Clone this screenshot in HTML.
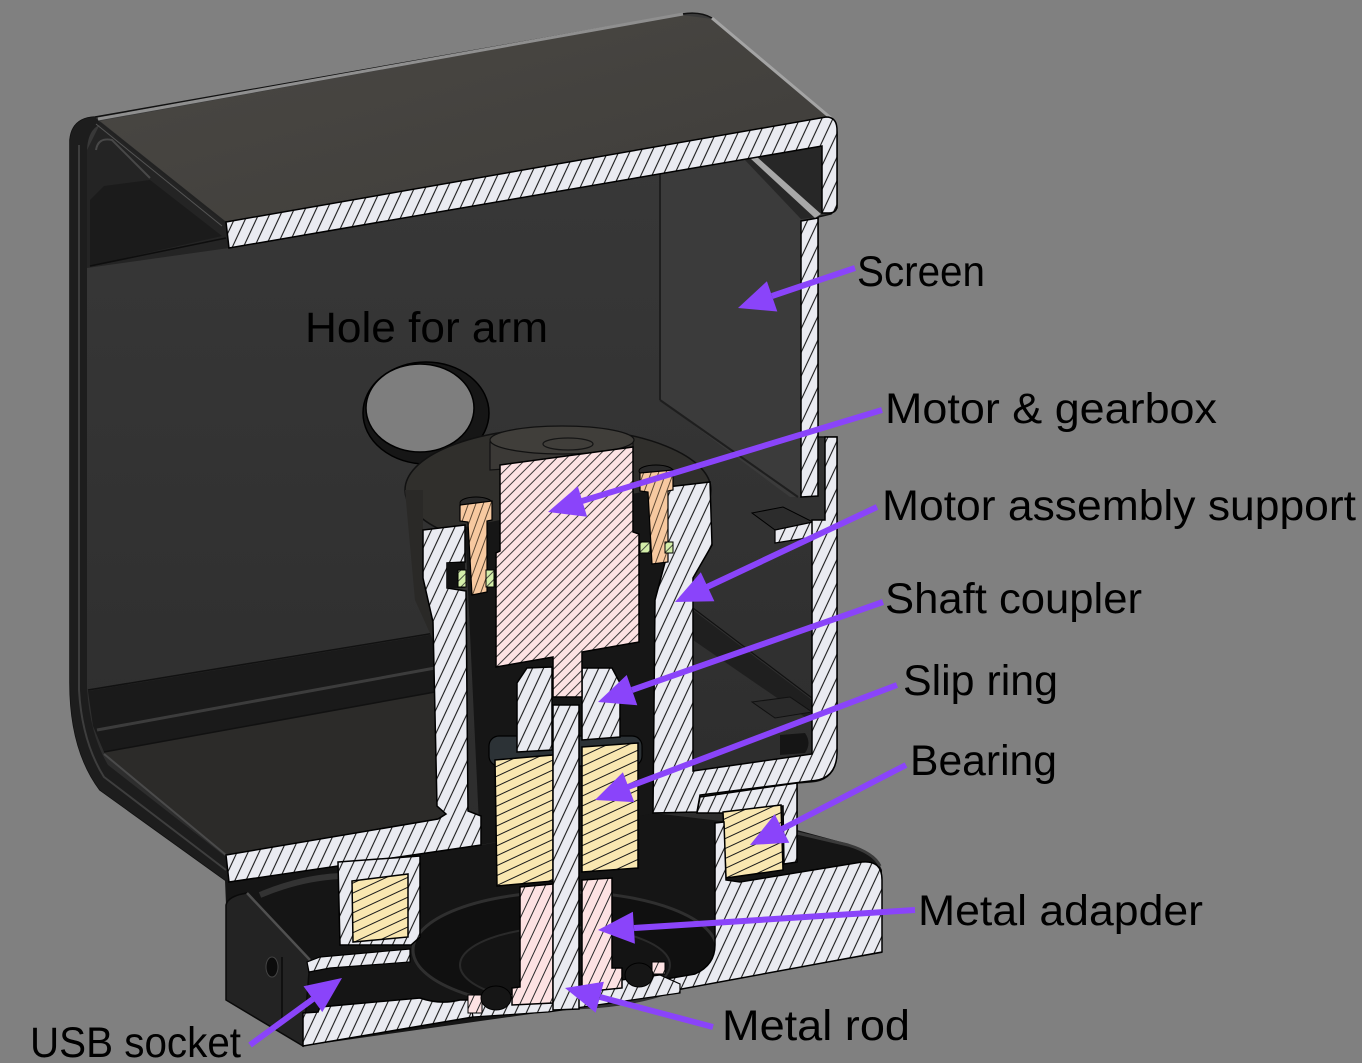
<!DOCTYPE html>
<html>
<head>
<meta charset="utf-8">
<style>
html,body{margin:0;padding:0;background:#808080;}
svg{display:block;}
text{font-family:"Liberation Sans",Arial,sans-serif;font-size:43px;fill:#000;}
</style>
</head>
<body>
<svg width="1362" height="1063" viewBox="0 0 1362 1063" xmlns="http://www.w3.org/2000/svg">
<defs>
  <pattern id="hw" patternUnits="userSpaceOnUse" width="10" height="10" patternTransform="rotate(25)">
    <rect width="10" height="10" fill="#eaebf1"/>
    <line x1="5" y1="-1" x2="5" y2="11" stroke="#1a1a1a" stroke-width="1.1"/>
  </pattern>
  <pattern id="hp" patternUnits="userSpaceOnUse" width="7" height="7" patternTransform="rotate(45)">
    <rect width="7" height="7" fill="#fde2e3"/>
    <line x1="3.5" y1="-1" x2="3.5" y2="8" stroke="#2a2a2a" stroke-width="0.9"/>
  </pattern>
  <pattern id="hp2" patternUnits="userSpaceOnUse" width="9" height="9" patternTransform="rotate(25)">
    <rect width="9" height="9" fill="#fde2e3"/>
    <line x1="4.5" y1="-1" x2="4.5" y2="10" stroke="#2a2a2a" stroke-width="1"/>
  </pattern>
  <pattern id="hy" patternUnits="userSpaceOnUse" width="9" height="9" patternTransform="rotate(65)">
    <rect width="9" height="9" fill="#f9e7b1"/>
    <line x1="4.5" y1="-1" x2="4.5" y2="10" stroke="#1a1a1a" stroke-width="1"/>
  </pattern>
  <pattern id="ho" patternUnits="userSpaceOnUse" width="7" height="7" patternTransform="rotate(20)">
    <rect width="7" height="7" fill="#f7c9a0"/>
    <line x1="3.5" y1="-1" x2="3.5" y2="8" stroke="#3a2a1a" stroke-width="0.8"/>
  </pattern>
  <pattern id="hg" patternUnits="userSpaceOnUse" width="6" height="6" patternTransform="rotate(45)">
    <rect width="6" height="6" fill="#d4eeaa"/>
    <line x1="3" y1="-1" x2="3" y2="7" stroke="#2a2a2a" stroke-width="0.8"/>
  </pattern>
  <linearGradient id="bw" x1="0" y1="0" x2="0" y2="1">
    <stop offset="0" stop-color="#3a3a3a"/>
    <stop offset="1" stop-color="#2c2c2c"/>
  </linearGradient>
  <linearGradient id="lid" x1="0" y1="0" x2="1" y2="1">
    <stop offset="0" stop-color="#4a4844"/>
    <stop offset="1" stop-color="#3f3d3a"/>
  </linearGradient>
</defs>

<rect width="1362" height="1063" fill="#808080"/>

<!-- housing silhouette / back wall -->
<path d="M70,140 Q72,118 95,117 L682,14 Q700,11 712,18 L834,121 L837,132 L837,208 L831,214 L818,217 L818,437 L837,437 L837,750 Q837,781 810,782 L797,783 L797,840 L300,900 L228,882 L100,790 Q70,750 70,683 Z" fill="url(#bw)" stroke="#111" stroke-width="1.5"/>

<!-- left wall band -->
<path d="M70,140 Q72,118 95,117 L102,124 Q88,128 87,150 L87,688 Q90,735 108,765 L226,857 L228,882 L100,790 Q70,750 70,683 Z" fill="#1d1d1d"/>
<path d="M79,145 L79,690 Q82,742 104,777 L226,870" stroke="#3e3e3e" stroke-width="2" fill="none"/>

<!-- lid underside (left) -->
<polygon points="87,150 100,124 226,222 229,248 87,268" fill="#242424"/>
<polygon points="90,200 104,186 150,180 222,236 90,266" fill="#1b1b1b"/>
<path d="M96,150 Q98,137 112,140 L150,178" stroke="#484848" stroke-width="2" fill="none"/>
<line x1="90" y1="266" x2="226" y2="238" stroke="#0e0e0e" stroke-width="1.5"/>

<!-- lid top surface -->
<polygon points="100,121 682,15 712,19 830,119 226,222" fill="url(#lid)"/>
<line x1="98" y1="119" x2="683" y2="14" stroke="#8f8f8f" stroke-width="3"/>
<line x1="712" y1="18" x2="832" y2="119" stroke="#a4a4a4" stroke-width="3"/>
<line x1="99" y1="122" x2="226" y2="223" stroke="#222" stroke-width="2"/>
<line x1="96" y1="124" x2="222" y2="226" stroke="#555" stroke-width="1"/>

<!-- screen face -->
<polygon points="660,174 745,160 801,219 801,497 790,497 660,400" fill="#3b3b3b"/>
<polygon points="745,160 822,146 822,213 818,217 801,219" fill="#272727"/>
<polygon points="750,158 757,157 821,214 815,218" fill="#a8a8a8"/>
<line x1="660" y1="174" x2="660" y2="400" stroke="#1e1e1e" stroke-width="2"/>
<line x1="660" y1="400" x2="798" y2="497" stroke="#1e1e1e" stroke-width="2"/>

<!-- floor left -->
<line x1="88" y1="690" x2="435" y2="633" stroke="#111" stroke-width="1.5"/>
<polygon points="88,691 435,634 435,692 104,752 93,726" fill="#1a1a1a"/>
<line x1="97" y1="730" x2="435" y2="668" stroke="#3c3c3c" stroke-width="3"/>
<polygon points="104,752 435,692 440,818 226,855" fill="#2c2b29"/>
<line x1="104" y1="752" x2="435" y2="692" stroke="#111" stroke-width="1.5"/>
<line x1="104" y1="754" x2="226" y2="855" stroke="#4a4a4a" stroke-width="2"/>

<!-- right interior details -->
<polygon points="693,610 812,700 812,722 693,640" fill="#1f1f1f"/>
<line x1="693" y1="608" x2="812" y2="698" stroke="#111" stroke-width="1.2"/>
<polygon points="752,702 790,697 812,712 775,718" fill="#2a2a2a" stroke="#111" stroke-width="1"/>
<path d="M780,735 L805,733 Q812,743 805,753 L780,755 Z" fill="#151515"/>

<!-- hole for arm -->
<ellipse cx="426" cy="413" rx="63" ry="51" fill="#161616" stroke="#000" stroke-width="1.5"/>
<ellipse cx="420" cy="408" rx="54" ry="44" fill="#7e7e7e" stroke="#000" stroke-width="1.5"/>

<!-- base dark -->
<path d="M225,880 L482,845 L653,813 L797,830 L845,843 Q875,852 882,870 L882,953 L545,1012 L303,1046 L226,1000 L226,905 Z" fill="#151515"/>
<path d="M226,905 Q228,896 247,893 L310,960 L303,1046 L226,1000 Z" fill="#232323" stroke="#0a0a0a" stroke-width="1.5"/>
<line x1="247" y1="893" x2="310" y2="960" stroke="#505050" stroke-width="2.5"/>
<line x1="282" y1="957" x2="282" y2="1020" stroke="#0a0a0a" stroke-width="1.5"/>
<ellipse cx="272" cy="967" rx="6" ry="10" fill="#0c0c0c" stroke="#444" stroke-width="1"/>
<path d="M260,895 Q300,878 340,876" stroke="#333" stroke-width="6" fill="none"/>
<path d="M797,833 L848,845 Q874,853 880,866" stroke="#3a3a3a" stroke-width="3" fill="none"/>

<!-- torus -->
<ellipse cx="565" cy="950" rx="152" ry="58" fill="#101010" stroke="#2f2f2f" stroke-width="3"/>
<ellipse cx="565" cy="965" rx="105" ry="38" fill="#141414" stroke="#2a2a2a" stroke-width="2"/>

<!-- cup top and interior -->
<ellipse cx="558" cy="490" rx="153" ry="62" fill="#302f2c" stroke="#111" stroke-width="1.5"/>
<polygon points="405,490 423,490 423,578 433,622 433,640 415,600" fill="#2a2927"/>
<polygon points="465,527 667,487 655,813 480,845" fill="#161616"/>

<!-- motor top cylinder -->
<path d="M490,442 Q560,420 633,440 L633,460 L490,470 Z" fill="#3b3936" stroke="#111" stroke-width="1.2"/>
<ellipse cx="562" cy="440" rx="72" ry="14" fill="#403e3a" stroke="#111" stroke-width="1.2"/>
<ellipse cx="568" cy="444" rx="25" ry="6" fill="none" stroke="#151515" stroke-width="1.2"/>

<!-- ===== sections ===== -->
<!-- lid strip -->
<path d="M226,222 L826,117 Q837,117 837,130 L837,205 Q837,213 829,213 L822,213 L822,146 L229,248 Z" fill="url(#hw)" stroke="#000" stroke-width="1.5"/>
<!-- right screen wall -->
<path d="M801,221 L818,218 L818,496 L801,497 Z" fill="url(#hw)" stroke="#000" stroke-width="1.5"/>
<!-- ledge -->
<polygon points="752,513 783,507 813,522 775,530" fill="#2c2c2c" stroke="#000" stroke-width="1"/>
<polygon points="775,530 813,522 813,537 775,543" fill="url(#hw)" stroke="#000" stroke-width="1.2"/>

<!-- left cup wall + floor -->
<path d="M226,855 L438,819 L446,814 L437,806 L433,622 L423,578 L423,530 L465,525 L465,562 L447,563 L447,588 L466,591 L468,811 L481,816 L481,845 L229,882 Z" fill="url(#hw)" stroke="#000" stroke-width="1.5"/>
<rect x="447" y="563" width="18" height="25" fill="#111"/>

<!-- right cup wall + outer wall + arm -->
<path d="M667,487 L710,482 L712,545 L693,578 L693,771 L812,754 L812,520 L825,520 L825,437 L837,437 L837,752 Q837,780 810,781 L700,795 L697,812 L653,813 L655,600 L667,555 Z" fill="url(#hw)" stroke="#000" stroke-width="1.5"/>

<!-- right bearing holder -->
<path d="M700,797 L797,783 L797,862 L784,864 L783,806 L722,813 L697,813 Z" fill="url(#hw)" stroke="#000" stroke-width="1.5"/>
<polygon points="723,812 781,805 783,870 726,878" fill="url(#hy)" stroke="#000" stroke-width="1.5"/>

<!-- base right block -->
<path d="M715,823 L724,822 L726,880 L740,882 L862,862 Q882,860 882,880 L882,952 L660,993 L660,980 L695,974 Q715,965 715,945 Z" fill="url(#hw)" stroke="#000" stroke-width="1.5"/>

<!-- left bearing holder -->
<path d="M338,862 L420,856 L420,937 L411,945 L340,945 Z" fill="url(#hw)" stroke="#000" stroke-width="1.5"/>
<polygon points="352,881 408,874 408,937 353,942" fill="url(#hy)" stroke="#000" stroke-width="1.5"/>

<!-- USB strip -->
<polygon points="307,962 320,957 410,949 410,962 330,968 309,972" fill="url(#hw)" stroke="#000" stroke-width="1.2"/>

<!-- bottom-left block -->
<path d="M303,1013 L318,1012 L320,1007 L420,998 Q440,1005 460,1000 L473,1000 L473,1017 L303,1046 Z" fill="url(#hw)" stroke="#000" stroke-width="1.5"/>

<!-- bottom center strip -->
<path d="M470,1000 L660,975 L680,984 L680,993 L548,1012 L473,1017 Z" fill="url(#hw)" stroke="#000" stroke-width="1.2"/>
<rect x="468" y="995" width="14" height="18" fill="url(#hp2)" stroke="#000" stroke-width="1"/>
<rect x="652" y="962" width="13" height="12" fill="url(#hp2)" stroke="#000" stroke-width="1"/>
<ellipse cx="496" cy="998" rx="15" ry="12" fill="#161616" stroke="#000"/>
<ellipse cx="639" cy="975" rx="14" ry="12" fill="#161616" stroke="#000"/>

<!-- bearing rim -->
<rect x="489" y="736" width="153" height="30" rx="10" fill="#2c3236" stroke="#000" stroke-width="1.2"/>

<!-- shaft coupler -->
<polygon points="517,683 527,668 552,667 552,750 517,752" fill="url(#hw)" stroke="#000" stroke-width="1.5"/>
<polygon points="582,668 612,668 620,683 620,737 582,740" fill="url(#hw)" stroke="#000" stroke-width="1.5"/>

<!-- bearings center -->
<polygon points="495,760 553,755 553,881 497,886" fill="url(#hy)" stroke="#000" stroke-width="1.5"/>
<polygon points="582,747 638,743 638,868 582,872" fill="url(#hy)" stroke="#000" stroke-width="1.5"/>

<!-- metal adapter -->
<polygon points="520,887 553,884 553,1003 512,1005 512,988 520,987" fill="url(#hp2)" stroke="#000" stroke-width="1.5"/>
<polygon points="582,880 612,878 612,968 622,968 622,988 582,992" fill="url(#hp2)" stroke="#000" stroke-width="1.5"/>

<!-- rod -->
<polygon points="553,705 579,705 579,1009 553,1010" fill="url(#hw)" stroke="#000" stroke-width="1.5"/>

<!-- motor -->
<polygon points="500,465 633,447 633,532 639,534 639,642 582,652 582,697 553,697 553,657 496,667 496,553 500,551" fill="url(#hp)" stroke="#000" stroke-width="1.5"/>

<!-- screws -->
<ellipse cx="476" cy="503" rx="16" ry="6" fill="#2a2a2a" stroke="#000"/>
<polygon points="460,505 492,501 492,520 487,521 487,592 472,595 468,522 460,521" fill="url(#ho)" stroke="#000" stroke-width="1.2"/>
<rect x="458" y="570" width="8" height="17" fill="url(#hg)" stroke="#000" stroke-width="1"/>
<rect x="486" y="570" width="8" height="17" fill="url(#hg)" stroke="#000" stroke-width="1"/>
<ellipse cx="656" cy="471" rx="17" ry="6" fill="#2a2a2a" stroke="#000"/>
<polygon points="640,473 673,470 673,490 668,491 668,562 652,564 648,492 640,491" fill="url(#ho)" stroke="#000" stroke-width="1.2"/>
<rect x="640" y="542" width="10" height="11" fill="url(#hg)" stroke="#000" stroke-width="1"/>
<rect x="665" y="542" width="8" height="11" fill="url(#hg)" stroke="#000" stroke-width="1"/>

<!-- ===== arrows ===== -->
<g stroke="#8a44fa" stroke-width="6" stroke-linecap="butt" fill="none">
  <line x1="855" y1="268" x2="772" y2="296"/>
  <line x1="882" y1="410" x2="582" y2="501"/>
  <line x1="877" y1="507" x2="707" y2="587"/>
  <line x1="883" y1="602" x2="632" y2="690"/>
  <line x1="897" y1="685" x2="628" y2="787"/>
  <line x1="906" y1="765" x2="782" y2="829"/>
  <line x1="915" y1="910" x2="634" y2="928"/>
  <line x1="713" y1="1027" x2="600" y2="997"/>
  <line x1="250" y1="1045" x2="313" y2="999"/>
</g>
<g fill="#8a44fa">
  <polygon points="738,308 766.9,281.2 777.3,311.5"/>
  <polygon points="548,512 577.8,486.2 587.1,516.8"/>
  <polygon points="675,602 700.8,572.2 714.4,601.2"/>
  <polygon points="598,702 626.7,675 637.3,705.2"/>
  <polygon points="595,800 622.9,772.2 634.3,802.1"/>
  <polygon points="750,845 774.7,814.3 789.3,842.8"/>
  <polygon points="598,930 632.9,911.8 634.9,943.7"/>
  <polygon points="565,988 603.9,981.7 595.7,1012.7"/>
  <polygon points="342,978 322.3,1012.1 303.5,986.3"/>
</g>

<!-- ===== labels ===== -->
<text x="857" y="286" textLength="128" lengthAdjust="spacingAndGlyphs">Screen</text>
<text x="305" y="342" textLength="243" lengthAdjust="spacingAndGlyphs">Hole for arm</text>
<text x="885" y="423" textLength="332" lengthAdjust="spacingAndGlyphs">Motor &amp; gearbox</text>
<text x="882" y="520" textLength="474" lengthAdjust="spacingAndGlyphs">Motor assembly support</text>
<text x="885" y="613" textLength="257" lengthAdjust="spacingAndGlyphs">Shaft coupler</text>
<text x="903" y="695" textLength="155" lengthAdjust="spacingAndGlyphs">Slip ring</text>
<text x="910" y="775" textLength="147" lengthAdjust="spacingAndGlyphs">Bearing</text>
<text x="918" y="925" textLength="285" lengthAdjust="spacingAndGlyphs">Metal adapder</text>
<text x="722" y="1040" textLength="188" lengthAdjust="spacingAndGlyphs">Metal rod</text>
<text x="30" y="1057" textLength="211" lengthAdjust="spacingAndGlyphs">USB socket</text>
</svg>
</body>
</html>
